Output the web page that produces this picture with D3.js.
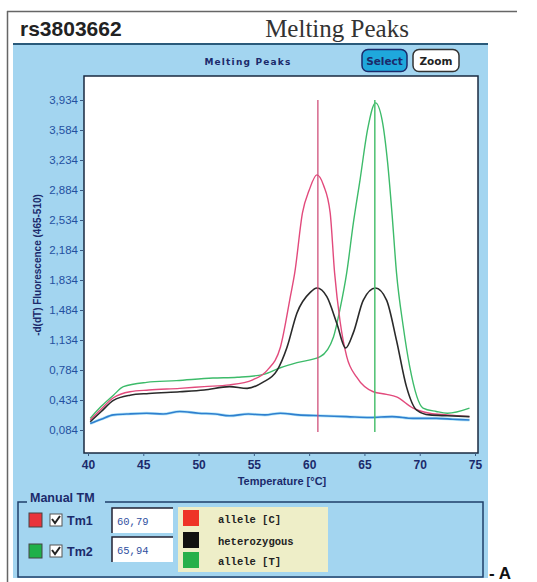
<!DOCTYPE html>
<html><head><meta charset="utf-8">
<script src="https://cdn.jsdelivr.net/npm/d3@7"></script>
<style>body{margin:0;background:#fff}svg{display:block}</style>
</head><body>
<svg id="c" width="537" height="582"></svg>
<script>
// ---------- DATA ----------
const xTicks = [40, 45, 50, 55, 60, 65, 70, 75];
const yTicks = [0.084, 0.434, 0.784, 1.134, 1.484, 1.834, 2.184, 2.534, 2.884, 3.234, 3.584, 3.934];
const yTickLabels = ["0,084","0,434","0,784","1,134","1,484","1,834","2,184","2,534","2,884","3,234","3,584","3,934"];
const tm1 = 60.79, tm2 = 65.94;
const tmLabels = ["60,79", "65,94"];
const legendNames = ["allele [C]", "heterozygous", "allele [T]"];

const blueT = [40.2, 41.2, 42.3, 43.5, 45.3, 46.8, 48.3, 50.0, 51.5, 52.8, 54.5, 56.0, 57.4, 59.0, 61.0, 63.4, 65.5, 67.5, 69.4, 71.5, 73.0, 74.5];
const blueV = [0.16, 0.21, 0.26, 0.27, 0.28, 0.27, 0.30, 0.28, 0.27, 0.25, 0.27, 0.26, 0.28, 0.26, 0.25, 0.24, 0.23, 0.24, 0.22, 0.22, 0.21, 0.20];

const blackT = [40.2, 41.2, 42.3, 43.8, 45.5, 48.3, 50.5, 52.8, 54.4, 55.8, 57.1, 58.0, 58.9, 60.1, 60.7, 61.6, 62.5, 63.3, 64.0, 64.9, 66.0, 67.0, 67.9, 68.8, 69.7, 70.9, 72.5, 74.5];
const blackV = [0.18, 0.30, 0.43, 0.49, 0.51, 0.53, 0.55, 0.59, 0.57, 0.64, 0.78, 1.05, 1.45, 1.69, 1.74, 1.64, 1.33, 1.04, 1.22, 1.60, 1.74, 1.60, 1.13, 0.59, 0.32, 0.26, 0.25, 0.24];

const redT = [40.2, 41.2, 42.3, 43.8, 45.5, 48.3, 50.5, 52.8, 54.9, 56.2, 57.4, 58.3, 58.7, 59.4, 60.0, 60.7, 61.3, 61.9, 62.3, 62.8, 63.4, 64.3, 65.8, 67.0, 67.9, 69.4, 70.9, 72.5, 74.5];
const redV = [0.20, 0.33, 0.46, 0.53, 0.55, 0.57, 0.59, 0.61, 0.67, 0.78, 1.05, 1.64, 1.92, 2.62, 2.88, 3.06, 2.94, 2.62, 1.92, 1.35, 0.94, 0.70, 0.53, 0.50, 0.47, 0.34, 0.28, 0.26, 0.24];

const greenT = [40.2, 41.2, 42.3, 43.2, 45.3, 48.0, 51.3, 53.5, 55.8, 57.4, 58.9, 61.0, 62.2, 62.8, 63.4, 64.0, 64.6, 65.3, 66.0, 66.6, 67.1, 67.5, 67.9, 68.5, 69.1, 70.3, 71.5, 72.5, 74.5];
const greenV = [0.22, 0.36, 0.49, 0.59, 0.64, 0.66, 0.69, 0.70, 0.73, 0.81, 0.87, 0.94, 1.17, 1.50, 1.92, 2.50, 3.00, 3.60, 3.90, 3.70, 3.20, 2.60, 1.92, 1.30, 0.82, 0.34, 0.30, 0.28, 0.34];

// ---------- DRAW ----------
const svg = d3.select("#c");
const navy = "#1b2a6b";

// outer frame
svg.append("line").attr("x1",7.5).attr("x2",7.5).attr("y1",11).attr("y2",582).attr("stroke","#666").attr("stroke-width",1.5);
svg.append("line").attr("x1",7).attr("x2",517).attr("y1",11.5).attr("y2",11.5).attr("stroke","#666").attr("stroke-width",1.5);

// header
svg.append("text").attr("x",20).attr("y",36).text("rs3803662")
  .attr("font-family","Liberation Sans, Arial, sans-serif").attr("font-weight","bold").attr("font-size",21).attr("fill","#222");
svg.append("text").attr("x",337).attr("y",37).attr("text-anchor","middle").text("Melting Peaks")
  .attr("font-family","Liberation Serif, Times New Roman, serif").attr("font-size",25).attr("fill","#333");

// blue panel
svg.append("rect").attr("x",13).attr("y",44).attr("width",475).attr("height",534).attr("fill","#a3d5f0");
svg.append("line").attr("x1",13).attr("x2",488).attr("y1",44).attr("y2",44).attr("stroke","#2a5a7a").attr("stroke-width",2);

// inner title
svg.append("text").attr("x",248).attr("y",65).attr("text-anchor","middle").text("Melting Peaks")
  .attr("font-family","DejaVu Sans, sans-serif").attr("font-weight","bold").attr("font-size",9).attr("letter-spacing",1.2).attr("fill",navy);

// buttons
svg.append("rect").attr("x",362).attr("y",49.5).attr("width",45).attr("height",22).attr("rx",6)
  .attr("fill","#1fa8dc").attr("stroke",navy).attr("stroke-width",1.5);
svg.append("text").attr("x",384.5).attr("y",64.5).attr("text-anchor","middle").text("Select")
  .attr("font-family","DejaVu Sans, sans-serif").attr("font-weight","bold").attr("font-size",10.5).attr("fill",navy);
svg.append("rect").attr("x",413).attr("y",49.5).attr("width",46).attr("height",22).attr("rx",6)
  .attr("fill","#fff").attr("stroke","#333").attr("stroke-width",1.5);
svg.append("text").attr("x",436).attr("y",64.5).attr("text-anchor","middle").text("Zoom")
  .attr("font-family","DejaVu Sans, sans-serif").attr("font-weight","bold").attr("font-size",10.5).attr("fill","#222");

// scales
const x = d3.scaleLinear().domain([40,75]).range([88,475]);
const y = d3.scaleLinear().domain([0.084,3.934]).range([430,100]);

// plot area
svg.append("rect").attr("x",84).attr("y",76).attr("width",394).attr("height",377)
  .attr("fill","#fff").attr("stroke","#1a2a40").attr("stroke-width",1.5);

// axes
const yAxis = d3.axisLeft(y).tickValues(yTicks).tickFormat((d,i)=>yTickLabels[i]).tickSize(4).tickPadding(2);
const gy = svg.append("g").attr("transform","translate(84,0)").call(yAxis);
gy.select(".domain").remove();
gy.selectAll("line").attr("stroke","#3a5a80");
gy.selectAll("text").attr("font-family","Liberation Sans Narrow, Arial Narrow, sans-serif").attr("font-size",11.5).attr("fill","#2350a0");

const xAxis = d3.axisBottom(x).tickValues(xTicks).tickSize(3).tickPadding(4);
const gx = svg.append("g").attr("transform","translate(0,453)").call(xAxis);
gx.select(".domain").remove();
gx.selectAll("line").attr("stroke","#3a5a80");
gx.selectAll("text").attr("font-family","Liberation Sans Narrow, Arial Narrow, sans-serif").attr("font-weight","bold").attr("font-size",12).attr("fill",navy);

svg.append("text").attr("x",282).attr("y",485).attr("text-anchor","middle").text("Temperature [°C]")
  .attr("font-family","Liberation Sans Narrow, Arial Narrow, sans-serif").attr("font-weight","bold").attr("font-size",11).attr("fill",navy);

svg.append("text").attr("transform","translate(41,265) rotate(-90)").attr("text-anchor","middle")
  .text("-d(dT) Fluorescence (465-510)")
  .attr("font-family","Liberation Sans Narrow, Arial Narrow, sans-serif").attr("font-weight","bold").attr("font-size",10).attr("fill",navy);

// curves
const line = d3.line().x(d=>x(d[0])).y(d=>y(d[1])).curve(d3.curveMonotoneX);
const zip = (a,b)=>a.map((t,i)=>[t,b[i]]);
const series = [
  {t:blueT, v:blueV, c:"#2f7fcf", w:1.6},
  {t:greenT, v:greenV, c:"#3dbb6a", w:1.4},
  {t:redT, v:redV, c:"#e24a7c", w:1.4},
  {t:blackT, v:blackV, c:"#2a2a2a", w:1.6}
];
svg.append("path").attr("d",line(zip(blueT,blueV))).attr("fill","none").attr("stroke","#9ee0f5").attr("stroke-width",3).attr("opacity",0.7);
series.forEach(s=>{
  svg.append("path").attr("d",line(zip(s.t,s.v))).attr("fill","none").attr("stroke",s.c).attr("stroke-width",s.w);
});

// Tm vertical lines
svg.append("line").attr("x1",x(tm1)).attr("x2",x(tm1)).attr("y1",y(3.934)).attr("y2",432).attr("stroke","#d0507a").attr("stroke-width",1.3);
svg.append("line").attr("x1",x(tm2)).attr("x2",x(tm2)).attr("y1",y(3.934)).attr("y2",432).attr("stroke","#4cc070").attr("stroke-width",1.5);

// Manual TM group box
svg.append("rect").attr("x",18).attr("y",502).attr("width",465).attr("height",75).attr("fill","none")
  .attr("stroke","#1f3f6a").attr("stroke-width",1.5);
svg.append("rect").attr("x",27).attr("y",492).attr("width",78).attr("height",12).attr("fill","#a3d5f0");
svg.append("text").attr("x",30).attr("y",502).text("Manual TM")
  .attr("font-family","Liberation Sans, Arial, sans-serif").attr("font-weight","bold").attr("font-size",12.5).attr("fill",navy);

const tmColors = ["#e8343c", "#1fb04a"];
[0,1].forEach(i=>{
  const yy = i===0 ? 513 : 544;
  svg.append("rect").attr("x",29).attr("y",yy).attr("width",13).attr("height",14).attr("fill",tmColors[i]).attr("stroke","#444").attr("stroke-width",1);
  svg.append("rect").attr("x",50).attr("y",yy+1).attr("width",12).attr("height",12).attr("fill","#fff").attr("stroke","#555").attr("stroke-width",1);
  svg.append("path").attr("d",`M${52},${yy+6} L${55},${yy+10} L${60},${yy+3}`).attr("fill","none").attr("stroke","#222").attr("stroke-width",2);
  svg.append("text").attr("x",67).attr("y",yy+12).text("Tm"+(i+1))
    .attr("font-family","Liberation Sans, Arial, sans-serif").attr("font-weight","bold").attr("font-size",12.5).attr("fill",navy);
  const by = i===0 ? 508 : 537;
  svg.append("rect").attr("x",112).attr("y",by).attr("width",61).attr("height",25).attr("fill","#fff");
  svg.append("path").attr("d",`M112,${by+25} L112,${by} L173,${by}`).attr("fill","none").attr("stroke","#223").attr("stroke-width",1.5);
  svg.append("text").attr("x",117).attr("y",by+17).text(tmLabels[i])
    .attr("font-family","Liberation Mono, DejaVu Sans Mono, monospace").attr("font-size",10.5).attr("fill","#3050a0");
});

// legend panel
svg.append("rect").attr("x",178).attr("y",507).attr("width",150).attr("height",65).attr("fill","#eeeec8");
const legColors = ["#ee3328", "#111111", "#27b04b"];
const legY = [510, 532, 552];
legendNames.forEach((n,i)=>{
  svg.append("rect").attr("x",183).attr("y",legY[i]).attr("width",16).attr("height",16).attr("fill",legColors[i]);
  svg.append("text").attr("x",218).attr("y",legY[i]+13).text(n)
    .attr("font-family","Liberation Mono, DejaVu Sans Mono, monospace").attr("font-weight","bold").attr("font-size",10.5).attr("fill","#222");
});

svg.append("text").attr("x",489).attr("y",579).text("- A")
  .attr("font-family","Liberation Sans, Arial, sans-serif").attr("font-weight","bold").attr("font-size",17).attr("fill","#111");
</script>
</body></html>
